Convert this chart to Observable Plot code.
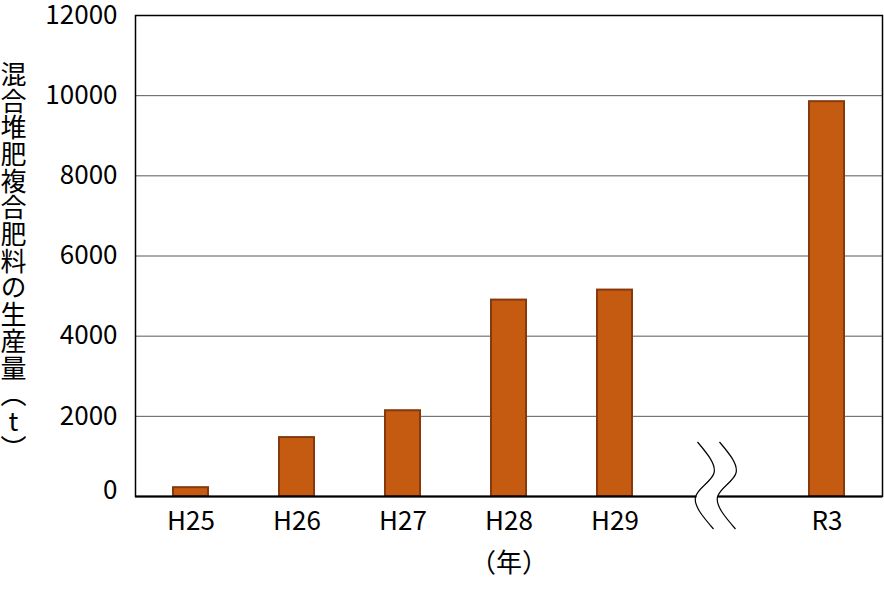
<!DOCTYPE html>
<html>
<head>
<meta charset="utf-8">
<script src="https://cdn.jsdelivr.net/npm/d3@7"></script>
<script src="https://cdn.jsdelivr.net/npm/@observablehq/plot@0.6"></script>
<style>
  html, body { margin: 0; padding: 0; background: #fff; }
  #wrap { position: relative; width: 884px; height: 600px; font-family: "Noto Sans CJK JP", "Noto Sans", sans-serif; }
  #ylabel { position: absolute; left: 0px; top: 61px; width: 27px; font-size: 26px; line-height: 27px;
            writing-mode: vertical-rl; text-orientation: mixed; color: #000; letter-spacing: 0.7px; }
  #ylabel .up { text-orientation: upright; }
</style>
</head>
<body>
<div id="wrap">
  <div id="ylabel"></div>
</div>
<script>
const years = ["H25", "H26", "H27", "H28", "H29", "gap", "R3"];
const tickYears = ["H25", "H26", "H27", "H28", "H29", "R3"];
const barYears = ["H25", "H26", "H27", "H28", "H29", "R3"];
const production = [220, 1470, 2140, 4900, 5150, 9850];
const yTicks = [2000, 4000, 6000, 8000, 10000, 12000];
const gridTicks = [2000, 4000, 6000, 8000, 10000];
const yTitleMain = "混合堆肥複合肥料の生産量";
const yTitleUnit = "t";
const xTitle = "（年）";

const data = barYears.map((y, i) => ({year: y, value: production[i]}));

const yl = document.getElementById("ylabel");
yl.appendChild(document.createTextNode(yTitleMain + "（"));
const up = document.createElement("span");
up.className = "up";
up.textContent = yTitleUnit;
yl.appendChild(up);
yl.appendChild(document.createTextNode("）"));

const fmt = d3.format("d");

const plot = Plot.plot({
  width: 884,
  height: 600,
  marginTop: 15,
  marginRight: 2,
  marginBottom: 104,
  marginLeft: 135,
  style: {fontFamily: "'Noto Sans CJK JP', 'Noto Sans', sans-serif", fontSize: "26px", background: "white", color: "black"},
  x: {domain: years, paddingInner: 0.672, paddingOuter: 0.336, label: null},
  y: {domain: [0, 12000], label: null},
  marks: [
    Plot.gridY(gridTicks, {stroke: "#595959", strokeOpacity: 1, strokeWidth: 1}),
    Plot.barY(data, {x: "year", y: "value", fill: "#C55A11", stroke: "#86390C", strokeWidth: 2}),
    Plot.frame({stroke: "black", strokeWidth: 1.5}),
    Plot.ruleY([0], {stroke: "black", strokeWidth: 2}),
    Plot.axisY(yTicks, {tickSize: 0, tickPadding: 18, fontSize: 26, label: null, tickFormat: fmt}),
    Plot.axisY([0], {tickSize: 0, tickPadding: 18, fontSize: 26, label: null, tickFormat: fmt, dy: -6}),
    Plot.axisX(tickYears, {tickSize: 0, tickPadding: 15, fontSize: 26, label: null}),
    Plot.text([xTitle], {frameAnchor: "bottom", dy: 67, fontSize: 26, lineAnchor: "middle"})
  ]
});

document.getElementById("wrap").appendChild(plot);

// Axis break mark drawn at the blank "gap" band
const xs = plot.scale("x");
const ys = plot.scale("y");
const cx = xs.apply("gap") + xs.bandwidth / 2;
const y0 = ys.apply(0);
const xl = cx - 23;
const shape = [[0, -54], [16.5, -23], [-2, 1], [16, 33]];
const line = d3.line().curve(d3.curveNatural);
const svg = d3.select(plot);
const g = svg.append("g");
g.append("rect")
  .attr("x", xl - 1).attr("y", y0 - 4).attr("width", 21).attr("height", 8)
  .attr("fill", "white");
[0, 22].forEach(off => {
  g.append("path")
    .attr("d", line(shape.map(([dx, dy]) => [xl + off + dx, y0 + dy])))
    .attr("fill", "none").attr("stroke", "black").attr("stroke-width", 1.2);
});
</script>
</body>
</html>
